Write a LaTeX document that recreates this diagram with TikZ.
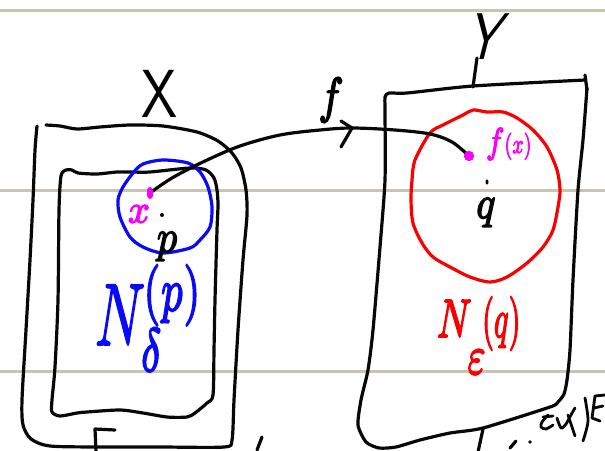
\documentclass[tikz,border=0pt]{standalone}
\usepackage{graphicx}
\definecolor{ruled}{RGB}{200,196,178}
\definecolor{ink}{RGB}{8,8,8}
\definecolor{nblue}{RGB}{10,10,250}
\definecolor{nred}{RGB}{250,0,0}
\definecolor{npink}{RGB}{250,0,250}
% outline the glyphs as well as filling them, for a pen-like weight
\newcommand\inked[2][0.35]{\special{pdf:literal #1 w 1 j 2 Tr}#2\special{pdf:literal 0 Tr}}
\begin{document}
\begin{tikzpicture}[x=1pt,y=-1pt,
  pen/.style={line width=3.2pt,line cap=round,line join=round,draw=ink},
  thinpen/.style={pen,line width=2.8pt},
  bluepen/.style={pen,draw=nblue},
  redpen/.style={pen,draw=nred},
  rule/.style={line width=3pt,draw=ruled},
  lab/.style={inner sep=0pt,outer sep=0pt},
  dot/.style={circle,inner sep=0pt,minimum size=#1}]
\useasboundingbox (0,0) rectangle (605,450);
\fill[white] (0,0) rectangle (605,450);

% notebook ruling
\draw[rule] (0,10) -- (605,10);
\draw[rule] (0,190.5) -- (605,190.5);
\draw[rule] (0,371) -- (605,371);

% the set X: outer outline
\draw[pen] plot[smooth,tension=0.45] coordinates {
  (37,126) (35,150) (33,200) (30,260) (26,330) (22,400) (23,425) (31,439)
  (50,446) (100,447) (160,447) (224,447) (232,440) (234,400) (238,330)
  (243,260) (247,215) (246,190) (241,168) (232,153) (218,141) (197,132)
  (163,126) (130,125) (100,127) (77,129) (60,126) (46,125)};
% inner region of X
\draw[pen] plot[smooth,tension=0.45] coordinates {
  (133,172) (117,172) (97,174) (78,173) (72,170) (66,170) (61,176)
  (59,210) (58,300) (55,367) (52,400) (52,412) (60,416) (77,413) (87,412)
  (120,410) (143,413) (167,417) (187,417) (195,413) (207,403) (213,395)
  (214,350) (215,300) (217,230) (218,205) (217,190) (214,178) (206,170)
  (190,168) (150,172) (133,172)};

% the set Y
\draw[pen] plot[smooth,tension=0.4] coordinates {
  (587,88) (583,140) (578,190) (573,280) (570,350) (567,380) (564,394)
  (558,402) (550,407) (483,428) (450,433) (420,440) (396,447) (379,448)
  (366,442) (358,425) (361,400) (368,370) (373,330) (380,247) (385,180)
  (385,110) (385,97) (389,93) (407,93) (473,86) (585,80)};
\draw[pen] (585,75) -- (587,90);
\draw[pen] (483,429) -- (478,452);

% labels of the sets and the map
\node[lab,font=\sffamily\fontsize{68}{68}\selectfont,xscale=0.85] (setX) at (160,94) {X};
\node[lab,font=\sffamily\fontsize{66}{66}\selectfont,xscale=0.8,xslant=0.32] (setY) at (488,37) {Y};
\coordinate (Yfoot) at (473,87);
\draw[pen] (477,58) -- (Yfoot);
\node[lab] (fname) at (331,100) {\scalebox{4.2}[5]{\inked{$f$}}};

% neighbourhoods
\draw[bluepen] plot[smooth cycle,tension=0.5] coordinates {
  (143,164) (163,160) (188,163) (200,172) (208,187) (212,207) (210,227)
  (200,240) (190,248) (163,253) (143,247) (130,237) (120,217) (118,200)
  (123,187) (133,173)};
\draw[redpen] plot[smooth cycle,tension=0.5] coordinates {
  (430,133) (443,125) (463,115) (473,110) (487,112) (503,112) (517,118)
  (533,130) (547,147) (557,170) (560,190) (558,207) (553,230) (543,247)
  (527,263) (507,277) (490,282) (470,277) (450,267) (433,257) (422,243)
  (413,223) (411,200) (412,180) (415,160)};

% the map f from x to f(x)
\coordinate (ftip) at (352,128);
\node[dot=4pt,fill=ink] (pdot) at (162,215) {};
\node[dot=3pt,fill=ink,yscale=1.7] (qdot) at (487,182) {};
\node[dot=8pt,fill=npink,xscale=0.8,yscale=1.5,rotate=-20] (xdot) at (150,193) {};
\node[dot=10pt,fill=npink] (fxdot) at (469,156) {};
\draw[pen] plot[smooth,tension=0.55] coordinates {
  (xdot) (172,178) (205,161) (240,146) (280,135) (320,130) (ftip)
  (395,130) (430,134) (452,142) (fxdot)};
\draw[pen] (ftip) ++(-11,-7) -- (ftip) -- ++(-11,19);
\node[dot=8pt,fill=npink,xscale=0.8,yscale=1.5,rotate=-20] at (xdot) {};
\node[dot=10pt,fill=npink] at (fxdot) {};

% point labels
\node[lab,text=npink] (xname) at (139,214) {\scalebox{3.8}[4]{\inked{$x$}}};
\node[lab,text=ink,anchor=base] (pname) at (167,252) {\scalebox{4}[4.6]{\inked{$p$}}};
\node[lab,text=ink,anchor=base] (qname) at (486,218) {\scalebox{4}[4.6]{\inked{$q$}}};
\node[lab,text=npink,anchor=base west] (fxname) at (486,153)
  {\scalebox{3.1}[3.6]{\inked{$f$}}\scalebox{2.0}[2.7]{\inked{$(x)$}}};

% neighbourhood names
\node[lab,text=nblue,anchor=base west] (Ndelta) at (95,345)
  {\scalebox{5.5}[8.8]{\inked[0.22]{\rlap{$N$}\hspace{8.3pt}\raisebox{-3pt}{\rlap{$\scriptstyle\delta$}}\hspace{0.5pt}\raisebox{3.9pt}{$\scriptstyle(p)$}}}};
\node[lab,text=nred,anchor=base west] (Neps) at (437,337)
  {\scalebox{3.8}[5.4]{\inked[0.35]{\rlap{$N$}\hspace{8.1pt}\raisebox{-6.8pt}{\rlap{$\varepsilon$}}\hspace{3.8pt}\scalebox{0.8}[1]{$(q)$}}}};

% stray pen strokes along the lower edge
\draw[pen] (115,430) -- (95,429) -- (96,452);
\draw[pen] (262,437) -- (257,450);
\draw[pen] (510,448) -- (516,441);
\fill[ink] (530,442) circle (1.8pt);
\draw[thinpen] (543,417) -- (553,416);
\draw[thinpen] plot[smooth] coordinates {(548,415) (542,422) (541,427) (546,429) (553,425)};
\draw[thinpen] plot[smooth] coordinates {(557,418) (561,428) (566,424) (572,413) (575,408)};
\draw[thinpen] (568,415) -- (575,436);
\draw[thinpen] plot[smooth] coordinates {(585,398) (588,421) (583,441)};
\draw[thinpen] (605,395) -- (595,396) -- (592,418) -- (600,421);
\draw[thinpen] (594,408) -- (603,406);
\end{tikzpicture}
\end{document}
